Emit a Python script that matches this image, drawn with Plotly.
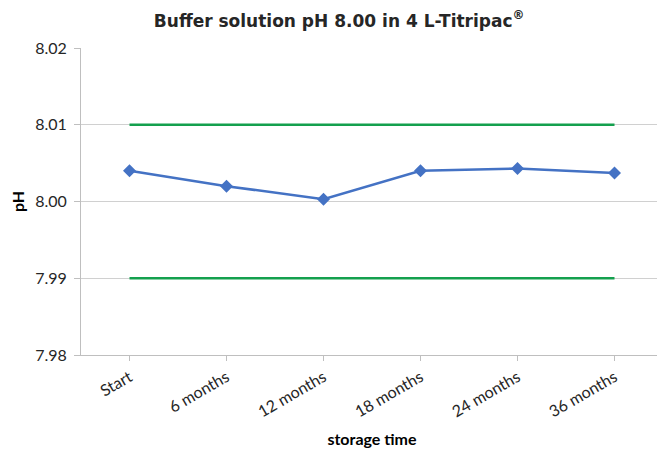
import plotly.graph_objects as go

categories = ["Start", "6 months", "12 months", "18 months", "24 months", "36 months"]
ph_values = [8.0040, 8.0020, 8.0003, 8.0040, 8.0043, 8.0037]
upper_limit = [8.01, 8.01, 8.01, 8.01, 8.01, 8.01]
lower_limit = [7.99, 7.99, 7.99, 7.99, 7.99, 7.99]
y_ticks = [7.98, 7.99, 8.00, 8.01, 8.02]

green = "#14A04E"
blue = "#4472C4"
tick_font = dict(family="Lato, Carlito, sans-serif", size=16, color="#262626")

fig = go.Figure()
fig.add_trace(go.Scatter(x=categories, y=upper_limit, mode="lines",
                         line=dict(color=green, width=2.5), showlegend=False))
fig.add_trace(go.Scatter(x=categories, y=lower_limit, mode="lines",
                         line=dict(color=green, width=2.5), showlegend=False))
fig.add_trace(go.Scatter(x=categories, y=ph_values, mode="lines+markers",
                         line=dict(color=blue, width=2.5),
                         marker=dict(symbol="diamond", size=10, color=blue),
                         showlegend=False))

# page body has an 8px default margin, so the figure is sized/offset to compensate
fig.update_layout(
    width=657, height=450,
    margin=dict(l=73, r=2, t=40, b=103),
    paper_bgcolor="white", plot_bgcolor="white",
    title=dict(text="Buffer solution pH 8.00 in 4 L-Titripac<sup>®</sup>",
               x=0.504, xanchor="center", y=0.972, yanchor="middle",
               font=dict(family="DejaVu Sans", size=17, color="#262626", weight="bold")),
    xaxis=dict(
        type="category", range=[-0.5, 5.5], automargin=False,
        showgrid=False, showline=True, linecolor="#bfbfbf", linewidth=1,
        ticks="outside", ticklen=5, tickcolor="#bfbfbf",
        tickangle=-30, tickfont=tick_font, ticklabelstandoff=1,
        title=dict(text="storage time", standoff=14,
                   font=dict(family="Lato, Carlito, sans-serif", size=16, color="#000000", weight="bold")),
    ),
    yaxis=dict(
        range=[7.98, 8.02], tickvals=y_ticks, tickformat=".2f", automargin=False,
        showgrid=True, gridcolor="#d0d0d0", gridwidth=1,
        showline=True, linecolor="#bfbfbf", linewidth=1,
        ticks="outside", ticklen=6, tickcolor="#bfbfbf",
        tickfont=tick_font, zeroline=False, ticklabelstandoff=4,
        title=dict(text="pH", standoff=11,
                   font=dict(family="Lato, Carlito, sans-serif", size=16, color="#000000", weight="bold")),
    ),
)

fig.write_html("out.html")
